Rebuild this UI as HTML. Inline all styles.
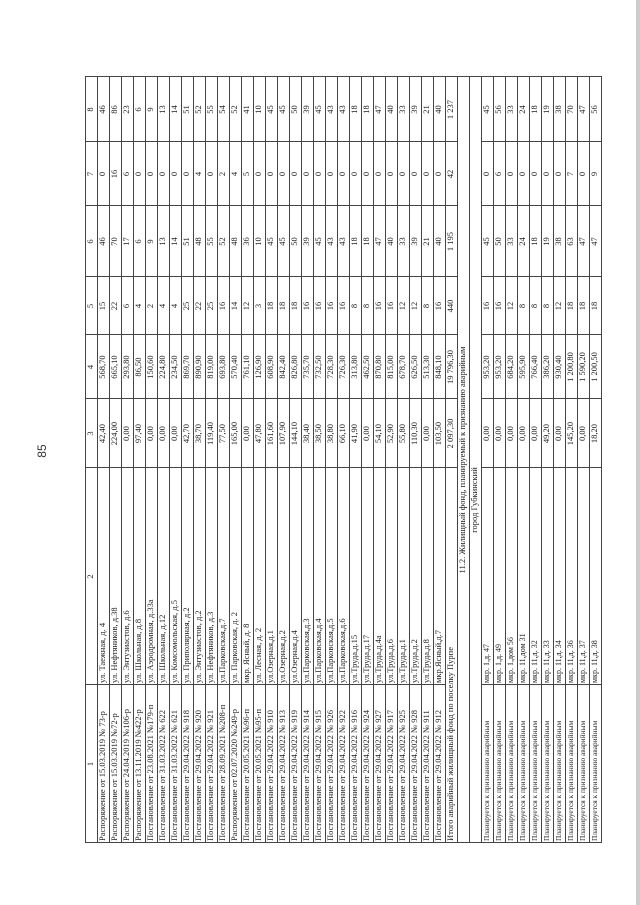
<!DOCTYPE html>
<html><head><meta charset="utf-8">
<style>
html,body{margin:0;padding:0;background:#fff;}
body{width:640px;height:905px;position:relative;overflow:hidden;font-family:"Liberation Serif","Noto Serif CJK SC",serif;color:#222;}
#t{position:absolute;left:0;top:0;width:767px;height:517px;transform-origin:0 0;transform:translate(85px,843px) rotate(-90deg);}
#t svg{position:absolute;left:0;top:0;}
.rows{position:absolute;left:0;top:0;width:767px;}
.r{display:flex;height:12px;line-height:11px;font-size:8.5px;white-space:nowrap;}
.r span{flex:none;display:block;text-align:center;box-sizing:border-box;overflow:visible;}
.r span.a{width:158px;text-align:left;padding-left:2px;}
.r span.b{width:217px;text-align:left;padding-left:2px;}
.r span.ha{width:158px;}
.r span.hb{width:217px;}
.r span.c{width:69px}.r span.d{width:64px}.r span.e{width:58px}.r span.f{width:71px}.r span.g{width:64px}.r span.h{width:65px}
.r span.p{font-size:7.4px;}
.r span.m{font-size:8px;}
.r span.tot{width:375px;text-align:left;padding-left:2px;}
</style></head>
<body>
<div style="position:absolute;left:30px;top:444px;width:24px;height:14px;line-height:14px;text-align:center;font-family:'Liberation Sans',sans-serif;font-size:12px;color:#333;transform:rotate(-90deg);">85</div>
<div style="position:absolute;left:636px;top:0;width:4px;height:905px;background:#cdcdcd;"></div>
<div id="t">
<svg width="767" height="517" viewBox="0 0 767 517" shape-rendering="crispEdges">
<path fill="none" stroke="#444" stroke-width="1" d="M0 0.5H767M0 12.5H767M0 24.5H767M0 36.5H767M0 48.5H767M0 60.5H767M0 72.5H767M0 84.5H767M0 96.5H767M0 108.5H767M0 120.5H767M0 132.5H767M0 144.5H767M0 156.5H767M0 168.5H767M0 180.5H767M0 192.5H767M0 204.5H767M0 216.5H767M0 228.5H767M0 240.5H767M0 252.5H767M0 264.5H767M0 276.5H767M0 288.5H767M0 300.5H767M0 312.5H767M0 324.5H767M0 336.5H767M0 348.5H767M0 360.5H767M0 372.5H767M0 384.5H767M0 396.5H767M0 408.5H767M0 420.5H767M0 432.5H767M0 444.5H767M0 456.5H767M0 468.5H767M0 480.5H767M0 492.5H767M0 504.5H767M0 516.5H767
M0.5 0V517M766.5 0V517
M158.5 0V360M158.5 396V517
M375.5 0V372M375.5 396V517
M444.5 0V372M444.5 396V517
M508.5 0V372M508.5 396V517
M566.5 0V372M566.5 396V517
M637.5 0V372M637.5 396V517
M701.5 0V372M701.5 396V517"/>
</svg>
<div class="rows">
<div class="r"><span class="ha">1</span><span class="hb">2</span><span class="c">3</span><span class="d">4</span><span class="e">5</span><span class="f">6</span><span class="g">7</span><span class="h">8</span></div>
<div class="r"><span class="a">Распоряжение от 15.03.2019 № 73-р</span><span class="b">ул. Таежная, д. 4</span><span class="c">42,40</span><span class="d">568,70</span><span class="e">15</span><span class="f">46</span><span class="g">0</span><span class="h">46</span></div>
<div class="r"><span class="a">Распоряжение от 15.03.2019 №72-р</span><span class="b">ул. Нефтяников, д.38</span><span class="c">224,00</span><span class="d">665,10</span><span class="e">22</span><span class="f">70</span><span class="g">16</span><span class="h">86</span></div>
<div class="r"><span class="a">Распоряжение от 24.04.2019 №106-р</span><span class="b">ул. Энтузиастов, д.6</span><span class="c">0,00</span><span class="d">293,80</span><span class="e">6</span><span class="f">17</span><span class="g">6</span><span class="h">23</span></div>
<div class="r"><span class="a">Распоряжение от 13.11.2019 №422-р</span><span class="b">ул. Школьная, д.8</span><span class="c">97,40</span><span class="d">86,50</span><span class="e">4</span><span class="f">6</span><span class="g">0</span><span class="h">6</span></div>
<div class="r"><span class="a">Постановление от 23.08.2021 №179-п</span><span class="b">ул. Аэродромная, д.33а</span><span class="c">0,00</span><span class="d">150,60</span><span class="e">2</span><span class="f">9</span><span class="g">0</span><span class="h">9</span></div>
<div class="r"><span class="a">Постановление  от 31.03.2022 № 622</span><span class="b">ул. Школьная, д.12</span><span class="c">0,00</span><span class="d">224,80</span><span class="e">4</span><span class="f">13</span><span class="g">0</span><span class="h">13</span></div>
<div class="r"><span class="a">Постановление  от 31.03.2022 № 621</span><span class="b">ул. Комсомольская, д.5</span><span class="c">0,00</span><span class="d">234,50</span><span class="e">4</span><span class="f">14</span><span class="g">0</span><span class="h">14</span></div>
<div class="r"><span class="a">Постановление  от 29.04.2022 № 918</span><span class="b">ул. Приполярная, д.2</span><span class="c">42,70</span><span class="d">869,70</span><span class="e">25</span><span class="f">51</span><span class="g">0</span><span class="h">51</span></div>
<div class="r"><span class="a">Постановление  от 29.04.2022 № 920</span><span class="b">ул. Энтузиастов, д.2</span><span class="c">38,70</span><span class="d">890,90</span><span class="e">22</span><span class="f">48</span><span class="g">4</span><span class="h">52</span></div>
<div class="r"><span class="a">Постановление от 29.04.2022 № 921</span><span class="b">ул. Нефтяников, д.3</span><span class="c">119,40</span><span class="d">819,00</span><span class="e">25</span><span class="f">55</span><span class="g">0</span><span class="h">55</span></div>
<div class="r"><span class="a">Постановление от 28.09.2021 №208-п</span><span class="b">ул.Парковская,д.7</span><span class="c">77,50</span><span class="d">693,80</span><span class="e">16</span><span class="f">52</span><span class="g">2</span><span class="h">54</span></div>
<div class="r"><span class="a">Распоряжение от 02.07.2020 №249-р</span><span class="b">ул. Парковская, д. 2</span><span class="c">165,00</span><span class="d">570,40</span><span class="e">14</span><span class="f">48</span><span class="g">4</span><span class="h">52</span></div>
<div class="r"><span class="a">Постановление от 20.05.2021 №96-п</span><span class="b">мкр. Ясный, д. 8</span><span class="c">0,00</span><span class="d">761,10</span><span class="e">12</span><span class="f">36</span><span class="g">5</span><span class="h">41</span></div>
<div class="r"><span class="a">Постановление от 20.05.2021 №95-п</span><span class="b">ул. Лесная, д. 2</span><span class="c">47,80</span><span class="d">126,90</span><span class="e">3</span><span class="f">10</span><span class="g">0</span><span class="h">10</span></div>
<div class="r"><span class="a">Постановление от 29.04.2022 № 910</span><span class="b">ул.Озерная,д.1</span><span class="c">161,60</span><span class="d">608,90</span><span class="e">18</span><span class="f">45</span><span class="g">0</span><span class="h">45</span></div>
<div class="r"><span class="a">Постановление от 29.04.2022 № 913</span><span class="b">ул.Озерная,д.2</span><span class="c">107,90</span><span class="d">842,40</span><span class="e">18</span><span class="f">45</span><span class="g">0</span><span class="h">45</span></div>
<div class="r"><span class="a">Постановление от 29.04.2022 № 919</span><span class="b">ул.Озерная,д.4</span><span class="c">144,10</span><span class="d">826,80</span><span class="e">18</span><span class="f">50</span><span class="g">0</span><span class="h">50</span></div>
<div class="r"><span class="a">Постановление от 29.04.2022 № 914</span><span class="b">ул.Парковская,д.3</span><span class="c">38,40</span><span class="d">735,70</span><span class="e">16</span><span class="f">39</span><span class="g">0</span><span class="h">39</span></div>
<div class="r"><span class="a">Постановление от 29.04.2022 № 915</span><span class="b">ул.Парковская,д.4</span><span class="c">38,50</span><span class="d">732,50</span><span class="e">16</span><span class="f">45</span><span class="g">0</span><span class="h">45</span></div>
<div class="r"><span class="a">Постановление от 29.04.2022 № 926</span><span class="b">ул.Парковская,д.5</span><span class="c">38,80</span><span class="d">728,30</span><span class="e">16</span><span class="f">43</span><span class="g">0</span><span class="h">43</span></div>
<div class="r"><span class="a">Постановление от 29.04.2022 № 922</span><span class="b">ул.Парковская,д.6</span><span class="c">66,10</span><span class="d">726,30</span><span class="e">16</span><span class="f">43</span><span class="g">0</span><span class="h">43</span></div>
<div class="r"><span class="a">Постановление от 29.04.2022 № 916</span><span class="b">ул.Труда,д.15</span><span class="c">41,90</span><span class="d">313,80</span><span class="e">8</span><span class="f">18</span><span class="g">0</span><span class="h">18</span></div>
<div class="r"><span class="a">Постановление от 29.04.2022 № 924</span><span class="b">ул.Труда,д.17</span><span class="c">0,00</span><span class="d">462,50</span><span class="e">8</span><span class="f">18</span><span class="g">0</span><span class="h">18</span></div>
<div class="r"><span class="a">Постановление от 29.04.2022 № 927</span><span class="b">ул.Труда,д.4а</span><span class="c">54,10</span><span class="d">870,80</span><span class="e">16</span><span class="f">47</span><span class="g">0</span><span class="h">47</span></div>
<div class="r"><span class="a">Постановление от 29.04.2022 № 917</span><span class="b">ул.Труда,д.6</span><span class="c">52,90</span><span class="d">815,00</span><span class="e">16</span><span class="f">40</span><span class="g">0</span><span class="h">40</span></div>
<div class="r"><span class="a">Постановление от 29.04.2022 № 925</span><span class="b">ул.Труда,д.1</span><span class="c">55,80</span><span class="d">678,70</span><span class="e">12</span><span class="f">33</span><span class="g">0</span><span class="h">33</span></div>
<div class="r"><span class="a">Постановление от 29.04.2022 № 928</span><span class="b">ул.Труда,д.2</span><span class="c">110,30</span><span class="d">626,50</span><span class="e">12</span><span class="f">39</span><span class="g">0</span><span class="h">39</span></div>
<div class="r"><span class="a">Постановление от 29.04.2022 № 911</span><span class="b">ул.Труда,д.8</span><span class="c">0,00</span><span class="d">513,30</span><span class="e">8</span><span class="f">21</span><span class="g">0</span><span class="h">21</span></div>
<div class="r"><span class="a">Постановление от 29.04.2022 № 912</span><span class="b">мкр.Ясный,д.7</span><span class="c">103,50</span><span class="d">848,10</span><span class="e">16</span><span class="f">40</span><span class="g">0</span><span class="h">40</span></div>
<div class="r"><span class="tot">Итого аварийный жилищный фонд по поселку Пурпе</span><span class="c">2 097,30</span><span class="d">19 796,30</span><span class="e">440</span><span class="f">1 195</span><span class="g">42</span><span class="h">1 237</span></div>
<div class="r"><span style="width:766px;">11.2. Жилищный фонд, планируемый к признанию аварийным</span></div>
<div class="r"><span style="width:686px;">город Губкинский</span></div>
<div class="r"><span class="a p">Планируется к признанию аварийным</span><span class="b m">мкр. 1,д. 47</span><span class="c">0,00</span><span class="d">953,20</span><span class="e">16</span><span class="f">45</span><span class="g">0</span><span class="h">45</span></div>
<div class="r"><span class="a p">Планируется к признанию аварийным</span><span class="b m">мкр. 1,д. 49</span><span class="c">0,00</span><span class="d">953,20</span><span class="e">16</span><span class="f">50</span><span class="g">6</span><span class="h">56</span></div>
<div class="r"><span class="a p">Планируется к признанию аварийным</span><span class="b m">мкр. 1,дом 56</span><span class="c">0,00</span><span class="d">684,20</span><span class="e">12</span><span class="f">33</span><span class="g">0</span><span class="h">33</span></div>
<div class="r"><span class="a p">Планируется к признанию аварийным</span><span class="b m">мкр. 11,дом 31</span><span class="c">0,00</span><span class="d">595,90</span><span class="e">8</span><span class="f">24</span><span class="g">0</span><span class="h">24</span></div>
<div class="r"><span class="a p">Планируется к признанию аварийным</span><span class="b m">мкр. 11,д. 32</span><span class="c">0,00</span><span class="d">766,40</span><span class="e">8</span><span class="f">18</span><span class="g">0</span><span class="h">18</span></div>
<div class="r"><span class="a p">Планируется к признанию аварийным</span><span class="b m">мкр. 11,д. 33</span><span class="c">49,20</span><span class="d">386,20</span><span class="e">8</span><span class="f">19</span><span class="g">0</span><span class="h">19</span></div>
<div class="r"><span class="a p">Планируется к признанию аварийным</span><span class="b m">мкр. 11,д. 34</span><span class="c">0,00</span><span class="d">930,40</span><span class="e">12</span><span class="f">38</span><span class="g">0</span><span class="h">38</span></div>
<div class="r"><span class="a p">Планируется к признанию аварийным</span><span class="b m">мкр. 11,д. 36</span><span class="c">145,20</span><span class="d">1 200,80</span><span class="e">18</span><span class="f">63</span><span class="g">7</span><span class="h">70</span></div>
<div class="r"><span class="a p">Планируется к признанию аварийным</span><span class="b m">мкр. 11,д. 37</span><span class="c">0,00</span><span class="d">1 590,20</span><span class="e">18</span><span class="f">47</span><span class="g">0</span><span class="h">47</span></div>
<div class="r"><span class="a p">Планируется к признанию аварийным</span><span class="b m">мкр. 11,д. 38</span><span class="c">18,20</span><span class="d">1 200,50</span><span class="e">18</span><span class="f">47</span><span class="g">9</span><span class="h">56</span></div>
</div>
</div>
</body></html>
